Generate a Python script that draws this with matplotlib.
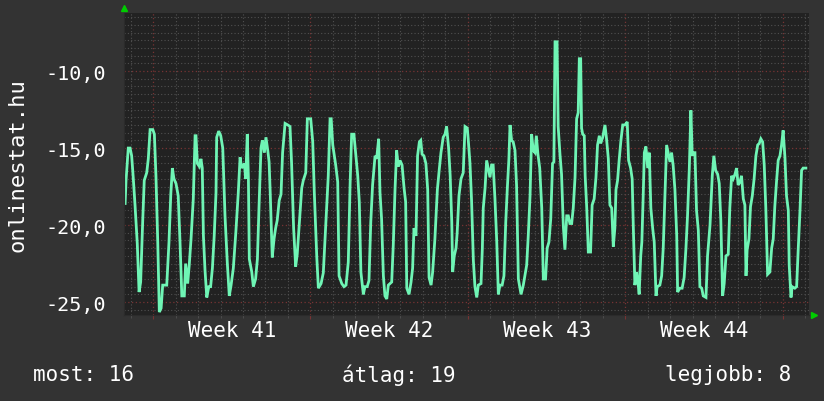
import matplotlib
matplotlib.use("Agg")
import matplotlib.pyplot as plt
from matplotlib.ticker import MultipleLocator, FixedLocator, NullFormatter

# time in days from the start of week 41
days = [
    -1.24, -1.20, -1.10, -1.02, -0.95, -0.88, -0.80, -0.70, -0.62, -0.55,
    -0.46, -0.39, -0.28, -0.21, -0.13, -0.01, 0.06, 0.13, 0.21, 0.28,
    0.36, 0.43, 0.61, 0.71, 0.79, 0.86, 0.93, 1.02, 1.12, 1.20,
    1.28, 1.39, 1.45, 1.54, 1.61, 1.69, 1.79, 1.87, 1.91, 1.97,
    2.06, 2.13, 2.19, 2.24, 2.31, 2.39, 2.48, 2.56, 2.64, 2.72,
    2.80, 2.83, 2.92, 3.01, 3.10, 3.20, 3.30, 3.39, 3.47, 3.57,
    3.68, 3.79, 3.87, 3.94, 4.06, 4.12, 4.19, 4.24, 4.28, 4.39,
    4.46, 4.56, 4.64, 4.71, 4.80, 4.86, 4.95, 5.02, 5.10, 5.16,
    5.21, 5.30, 5.38, 5.45, 5.52, 5.61, 5.69, 5.76, 5.87, 5.99,
    6.09, 6.16, 6.25, 6.34, 6.41, 6.50, 6.61, 6.68, 6.79, 6.86,
    7.01, 7.10, 7.17, 7.28, 7.35, 7.47, 7.57, 7.64, 7.72, 7.79,
    7.87, 7.92, 7.99, 8.06, 8.12, 8.21, 8.27, 8.39, 8.49, 8.58,
    8.68, 8.76, 8.83, 8.93, 9.02, 9.10, 9.17, 9.24, 9.35, 9.42,
    9.52, 9.60, 9.68, 9.76, 9.87, 9.94, 10.03, 10.09, 10.16, 10.24,
    10.31, 10.39, 10.46, 10.61, 10.68, 10.76, 10.83, 10.90, 10.98, 11.07,
    11.16, 11.23, 11.28, 11.38, 11.47, 11.54, 11.60, 11.69, 11.76, 11.84,
    11.90, 11.96, 12.04, 12.13, 12.21, 12.27, 12.36, 12.43, 12.53, 12.64,
    12.72, 12.80, 12.90, 12.98, 13.05, 13.14, 13.21, 13.28, 13.32, 13.39,
    13.47, 13.52, 13.60, 13.69, 13.79, 13.87, 13.97, 14.01, 14.09, 14.16,
    14.24, 14.31, 14.39, 14.46, 14.58, 14.64, 14.68, 14.76, 14.83, 14.90,
    14.98, 15.05, 15.12, 15.20, 15.28, 15.35, 15.42, 15.52, 15.60, 15.68,
    15.75, 15.82, 15.87, 15.94, 16.01, 16.09, 16.16, 16.24, 16.36, 16.46,
    16.53, 16.61, 16.68, 16.76, 16.83, 16.90, 16.98, 17.04, 17.11, 17.19,
    17.28, 17.35, 17.45, 17.52, 17.60, 17.68, 17.76, 17.82, 17.87, 17.96,
    18.01, 18.09, 18.16, 18.24, 18.31, 18.39, 18.46, 18.53, 18.61, 18.68,
    18.76, 18.83, 18.90, 18.95, 19.01, 19.05, 19.10, 19.17, 19.21, 19.28,
    19.35, 19.45, 19.52, 19.61, 19.69, 19.76, 19.84, 19.90, 19.99, 20.09,
    20.16, 20.24, 20.31, 20.39, 20.46, 20.53, 20.58, 20.65, 20.72, 20.80,
    20.88, 20.98, 21.08, 21.14, 21.23, 21.30, 21.35, 21.42, 21.50, 21.57,
    21.61, 21.68, 21.73, 21.79, 21.84, 21.91, 21.99, 22.06, 22.13, 22.21,
    22.28, 22.36, 22.41, 22.53, 22.61, 22.68, 22.76, 22.83, 22.90, 22.98,
    23.05, 23.12, 23.20, 23.28, 23.32, 23.42, 23.52, 23.61, 23.69, 23.76,
    23.84, 23.91, 23.97, 24.03, 24.09, 24.16, 24.24, 24.31, 24.39, 24.46,
    24.58, 24.65, 24.76, 24.86, 24.93, 25.01, 25.10, 25.17, 25.24, 25.32,
    25.39, 25.47, 25.57, 25.64, 25.72, 25.79, 25.87, 25.94, 26.01, 26.09,
    26.16, 26.24, 26.31, 26.36, 26.41, 26.49, 26.56, 26.64, 26.72, 26.80,
    26.88, 26.95, 27.02, 27.10, 27.17, 27.24, 27.32, 27.42, 27.50, 27.57,
    27.64, 27.72, 27.79, 27.87, 27.94, 28.01, 28.09, 28.16, 28.24, 28.28,
    28.36, 28.41, 28.53, 28.61, 28.68, 28.76, 28.83, 28.90, 29.02,
]
values = [
    -18.6, -17.1, -15.0, -15.0, -15.5, -16.9, -18.7, -21.2, -24.35, -23.7,
    -19.8, -17.1, -16.6, -15.7, -13.8, -13.8, -14.1, -16.8, -21.1, -25.65,
    -25.4, -23.9, -23.9, -21.1, -18.0, -16.3, -17.0, -17.3, -18.1, -21.1,
    -24.6, -24.6, -22.5, -23.8, -22.6, -20.9, -18.3, -14.2, -14.2, -16.0,
    -16.2, -15.7, -16.3, -20.7, -22.9, -24.7, -24.0, -24.0, -22.8, -20.7,
    -17.9, -14.3, -13.9, -14.2, -15.0, -19.4, -22.4, -24.6, -23.9, -22.8,
    -20.5, -17.9, -15.6, -16.3, -16.0, -17.0, -14.1, -17.0, -22.2, -23.05,
    -24.0, -23.5, -22.2, -18.9, -15.0, -14.5, -15.3, -14.3, -15.15, -15.9,
    -17.9, -22.1, -20.9, -20.2, -19.7, -18.4, -18.0, -15.3, -13.4, -13.5,
    -13.6, -16.0, -20.2, -22.7, -21.9, -20.0, -17.6, -17.1, -16.6, -13.1,
    -13.1, -14.6, -17.9, -22.1, -24.1, -23.8, -23.1, -21.1, -18.8, -16.8,
    -13.1, -13.1, -14.8, -15.5, -16.1, -17.2, -23.3, -23.8, -24.0, -23.9,
    -22.4, -17.4, -14.1, -14.1, -15.5, -16.8, -18.5, -23.05, -24.5, -24.0,
    -24.0, -23.6, -19.8, -17.4, -15.5, -15.7, -14.4, -17.9, -19.6, -23.3,
    -24.6, -24.8, -23.9, -23.7, -21.3, -17.6, -15.15, -16.2, -15.8, -16.1,
    -17.6, -18.5, -24.1, -24.5, -23.7, -22.8, -20.2, -20.7, -15.5, -14.6,
    -14.5, -15.4, -15.5, -16.0, -17.7, -23.4, -23.9, -23.05, -20.9, -17.7,
    -16.45, -15.3, -14.3, -14.1, -13.6, -15.0, -16.8, -19.8, -23.05, -22.0,
    -21.5, -20.5, -18.1, -17.0, -16.6, -13.6, -13.7, -14.4, -16.0, -18.4,
    -22.3, -24.0, -24.7, -23.9, -23.8, -21.5, -18.9, -17.6, -15.8, -16.3,
    -16.9, -16.1, -16.1, -18.3, -21.1, -24.5, -23.9, -23.9, -23.3, -19.8,
    -17.6, -15.7, -13.5, -14.5, -14.6, -15.15, -17.4, -23.5, -24.5, -23.9,
    -23.3, -22.6, -20.7, -18.1, -14.1, -15.15, -15.3, -14.2, -15.4, -16.3,
    -18.9, -23.5, -23.5, -21.5, -21.1, -19.6, -16.0, -15.9, -8.1, -8.1,
    -13.6, -15.4, -16.7, -20.1, -21.6, -19.4, -19.4, -19.9, -19.9, -18.9,
    -16.9, -13.1, -12.7, -9.2, -9.2, -13.7, -14.1, -14.2, -16.8, -18.9,
    -21.75, -21.75, -18.7, -18.3, -16.9, -14.8, -14.2, -14.7, -14.3, -13.5,
    -14.4, -15.7, -18.7, -18.9, -21.4, -20.2, -17.7, -17.1, -15.8, -14.5,
    -13.5, -13.5, -13.3, -15.8, -16.3, -17.0, -20.1, -23.9, -23.05, -23.9,
    -24.5, -22.0, -21.1, -18.1, -15.3, -14.9, -16.3, -15.3, -18.9, -20.2,
    -21.1, -24.6, -24.0, -23.9, -23.3, -21.5, -17.9, -14.8, -15.3, -15.9,
    -15.3, -16.1, -17.7, -20.7, -24.35, -24.1, -24.1, -23.4, -21.5, -19.4,
    -16.3, -12.55, -15.5, -15.3, -15.3, -19.05, -20.35, -24.0, -24.1, -24.6,
    -24.7, -22.0, -20.0, -16.8, -15.5, -16.45, -16.7, -17.3, -19.7, -24.6,
    -23.8, -22.0, -21.9, -18.9, -16.8, -17.0, -16.7, -16.3, -17.4, -17.2,
    -16.8, -18.3, -18.7, -23.3, -21.6, -20.9, -18.8, -18.1, -17.0, -15.5,
    -14.8, -14.7, -14.4, -14.6, -16.1, -18.9, -23.2, -23.05, -21.5, -20.9,
    -18.8, -17.1, -15.8, -15.5, -14.8, -13.85, -15.6, -18.1, -19.05, -22.6,
    -24.7, -24.0, -24.1, -24.0, -21.6, -19.05, -16.45, -16.3, -16.3,
]

week_starts = [0, 7, 14, 21, 28]
week_labels = ["Week 41", "Week 42", "Week 43", "Week 44"]
y_ticks = [-10, -15, -20, -25]
title_text = "onlinestat.hu"
footer = ["most: 16", "átlag: 19", "legjobb: 8"]

BG = "#333333"
PLOT_BG = "#222222"
LINE = "#6ff5b5"
MINOR = "#505050"
MAJOR = "#773333"
mono = "DejaVu Sans Mono"

fig = plt.figure(figsize=(8.24, 4.02), dpi=100, facecolor=BG)
ax = fig.add_axes([124 / 824, 1 - 316 / 402, 685 / 824, 302 / 402], facecolor=PLOT_BG)

ax.plot(days, values, color=LINE, lw=2.0, solid_joinstyle="miter")

ax.set_xlim(-1.29, 29.16)
ax.set_ylim(-25.84, -6.23)

# grid: dotted gray per day / half unit, dotted red per week / 5 units
ax.xaxis.set_minor_locator(MultipleLocator(1))
ax.yaxis.set_minor_locator(MultipleLocator(0.5))
ax.xaxis.set_major_locator(FixedLocator(week_starts))
ax.yaxis.set_major_locator(FixedLocator(y_ticks))
ax.grid(which="minor", color=MINOR, ls=(0, (1, 2)), lw=0.8)
ax.grid(which="major", color=MAJOR, ls=(0, (1, 2)), lw=0.9)
ax.set_axisbelow(True)

ax.xaxis.set_major_formatter(NullFormatter())
ax.set_yticklabels([f"{v},0" for v in y_ticks], family=mono, fontsize=14.5, color="white")
ax.tick_params(axis="y", which="both", length=0, pad=13)
ax.tick_params(axis="x", which="major", length=3, color=MAJOR, direction="out")
ax.tick_params(axis="x", which="minor", length=2, color=MINOR, direction="out")

for s in ["top", "right"]:
    ax.spines[s].set_visible(False)
ax.spines["left"].set_color("#2b2b2b")
ax.spines["bottom"].set_color("#2b2b2b")

# week labels centred in each week
for i, lab in enumerate(week_labels):
    ax.text(week_starts[i] + 3.5, -0.05, lab, transform=ax.get_xaxis_transform(),
            ha="center", va="center", family=mono, fontsize=15, color="white")

# axis arrows
ax.plot([0], [1.015], marker="^", color="#00cc00", ms=4, transform=ax.transAxes, clip_on=False)
ax.plot([1.008], [0], marker=">", color="#00cc00", ms=4, transform=ax.transAxes, clip_on=False)

fig.text(18 / 824, 1 - 165 / 402, title_text, rotation=90, ha="center", va="center",
         family=mono, fontsize=16, color="white")

fig.text(33 / 824, 1 - 375 / 402, footer[0], ha="left", va="center", family=mono, fontsize=15, color="white")
fig.text(399 / 824, 1 - 375 / 402, footer[1], ha="center", va="center", family=mono, fontsize=15, color="white")
fig.text(791 / 824, 1 - 375 / 402, footer[2], ha="right", va="center", family=mono, fontsize=15, color="white")

fig.savefig("out.png", dpi=100, facecolor=BG)
